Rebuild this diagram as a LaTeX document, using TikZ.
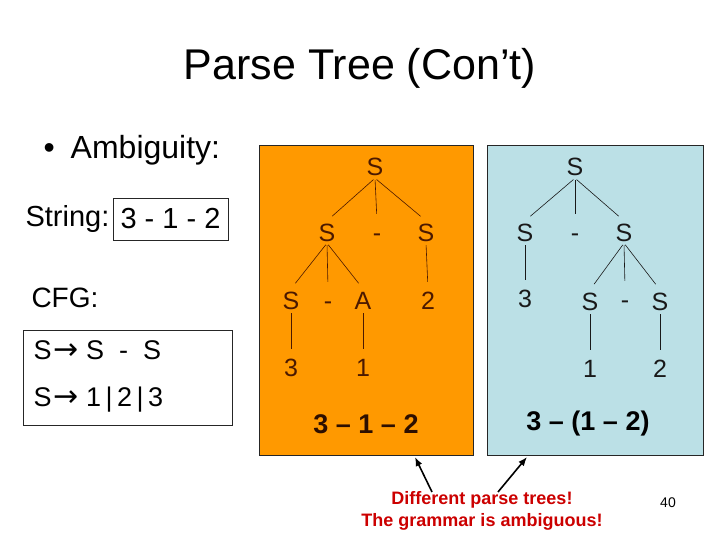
\documentclass[tikz,border=0pt]{standalone}
\usepackage{fontspec}
\setmainfont{Liberation Sans}
\newfontfamily\muitenfont{DejaVu Sans}
\usetikzlibrary{arrows.meta}
\definecolor{nencam}{RGB}{255,153,0}
\definecolor{nenxanh}{RGB}{187,224,230}
\definecolor{chunau}{RGB}{75,25,0}
\definecolor{chudo}{RGB}{204,0,0}
\newcommand{\muiten}{{\muitenfont\fontsize{30}{32}\selectfont →}}

\begin{document}
\begin{tikzpicture}[x=1pt, y=-1pt,
  every node/.style={font=\fontsize{25}{28}\selectfont},
  kyhieu/.style={inner sep=2pt, text height=18pt, text depth=0pt},
  nhanh/.style={line width=0.6pt, shorten <=2pt, shorten >=7pt},
  khung/.style={draw=black!85, line width=0.6pt}]
  \useasboundingbox (0,0) rectangle (720,540);
  \fill[white] (0,0) rectangle (720,540);

  % tieu de va phan trai
  \node (tieude) at (360,68) {\fontsize{43}{50}\selectfont Parse Tree (Con’t)};
  \node[anchor=west] (mucdau) at (40,150) {\fontsize{32}{36}\selectfont •\hspace{16pt}Ambiguity:};
  \node[anchor=west] (chuoi) at (22,219) {\fontsize{29}{34}\selectfont String:};
  \node[khung, minimum width=115, minimum height=42, inner sep=0pt] (chuoibox) at (170.5,219)
    {\fontsize{29}{34}\selectfont 3 - 1 - 2};
  \node[anchor=west] (cfg) at (28,298) {\fontsize{28}{34}\selectfont CFG:};
  \node[khung, minimum width=209, minimum height=95] (luat) at (127.5,377.5) {};
  \node[anchor=west] (luat1) at (30,350) {\fontsize{27}{32}\selectfont S\kern2pt\muiten\ S\ \ -\ \ S};
  \node[anchor=west] (luat2) at (30,400) {\fontsize{27}{32}\selectfont S\kern2pt\muiten\ 1\,|\,2\,|\,3};

  % hai khung cay
  \node[khung, fill=nencam, minimum width=214, minimum height=310] (camhop) at (366,300) {};
  \node[khung, fill=nenxanh, minimum width=216, minimum height=310] (xanhhop) at (595,300) {};

  % cay thu nhat: (3 - 1) - 2
  \begin{scope}[chunau, every node/.append style={kyhieu}]
    \node (a0) at (375,167) {S};
    \node (a1) at (327,232) {S};
    \node (a2) at (377,232) {-};
    \node (a3) at (426,232) {S};
    \node (a4) at (291,300) {S};
    \node (a5) at (328,300) {-};
    \node (a6) at (363,300) {A};
    \node (a7) at (428,300) {2};
    \node (a8) at (291,367) {3};
    \node (a9) at (363,367) {1};
    \foreach \u/\v in {a0/a1, a0/a2, a0/a3, a1/a4, a1/a5, a1/a6, a3/a7, a4/a8, a6/a9}
      \draw[nhanh] (\u.south) -- (\v.north);
  \end{scope}
  \node[chunau!60!black] (ketqua1) at (366,424) {\fontsize{27}{32}\selectfont\bfseries 3 – 1 – 2};

  % cay thu hai: 3 - (1 - 2)
  \begin{scope}[black!90, every node/.append style={kyhieu}]
    \node (b0) at (575,167) {S};
    \node (b1) at (525,232) {S};
    \node (b2) at (575,232) {-};
    \node (b3) at (624,232) {S};
    \node (b4) at (525,298) {3};
    \node (b5) at (590,301) {S};
    \node (b6) at (625,299) {-};
    \node (b7) at (660,301) {S};
    \node (b8) at (590,368) {1};
    \node (b9) at (660,368) {2};
    \foreach \u/\v in {b0/b1, b0/b2, b0/b3, b1/b4, b3/b5, b3/b6, b3/b7, b5/b8, b7/b9}
      \draw[nhanh] (\u.south) -- (\v.north);
  \end{scope}
  \node (ketqua2) at (588,424) {\fontsize{27}{32}\selectfont\bfseries 3 – (1 – 2)};

  % loi nhan
  \node[chudo, align=center, font=\fontsize{18}{22}\selectfont\bfseries] (loinhan) at (482,511)
    {Different parse trees!\\The grammar is ambiguous!};
  \coordinate (dauA) at (432,492);
  \coordinate (dauB) at (498,492);
  \coordinate (muiA) at (415,457);
  \coordinate (muiB) at (527,457);
  \draw[line width=1.6pt, -{Latex[length=9pt, width=7pt]}] (dauA) -- (muiA);
  \draw[line width=1.6pt, -{Latex[length=9pt, width=7pt]}] (dauB) -- (muiB);
  \node (trang) at (668,503) {\fontsize{14}{16}\selectfont 40};
\end{tikzpicture}
\end{document}
